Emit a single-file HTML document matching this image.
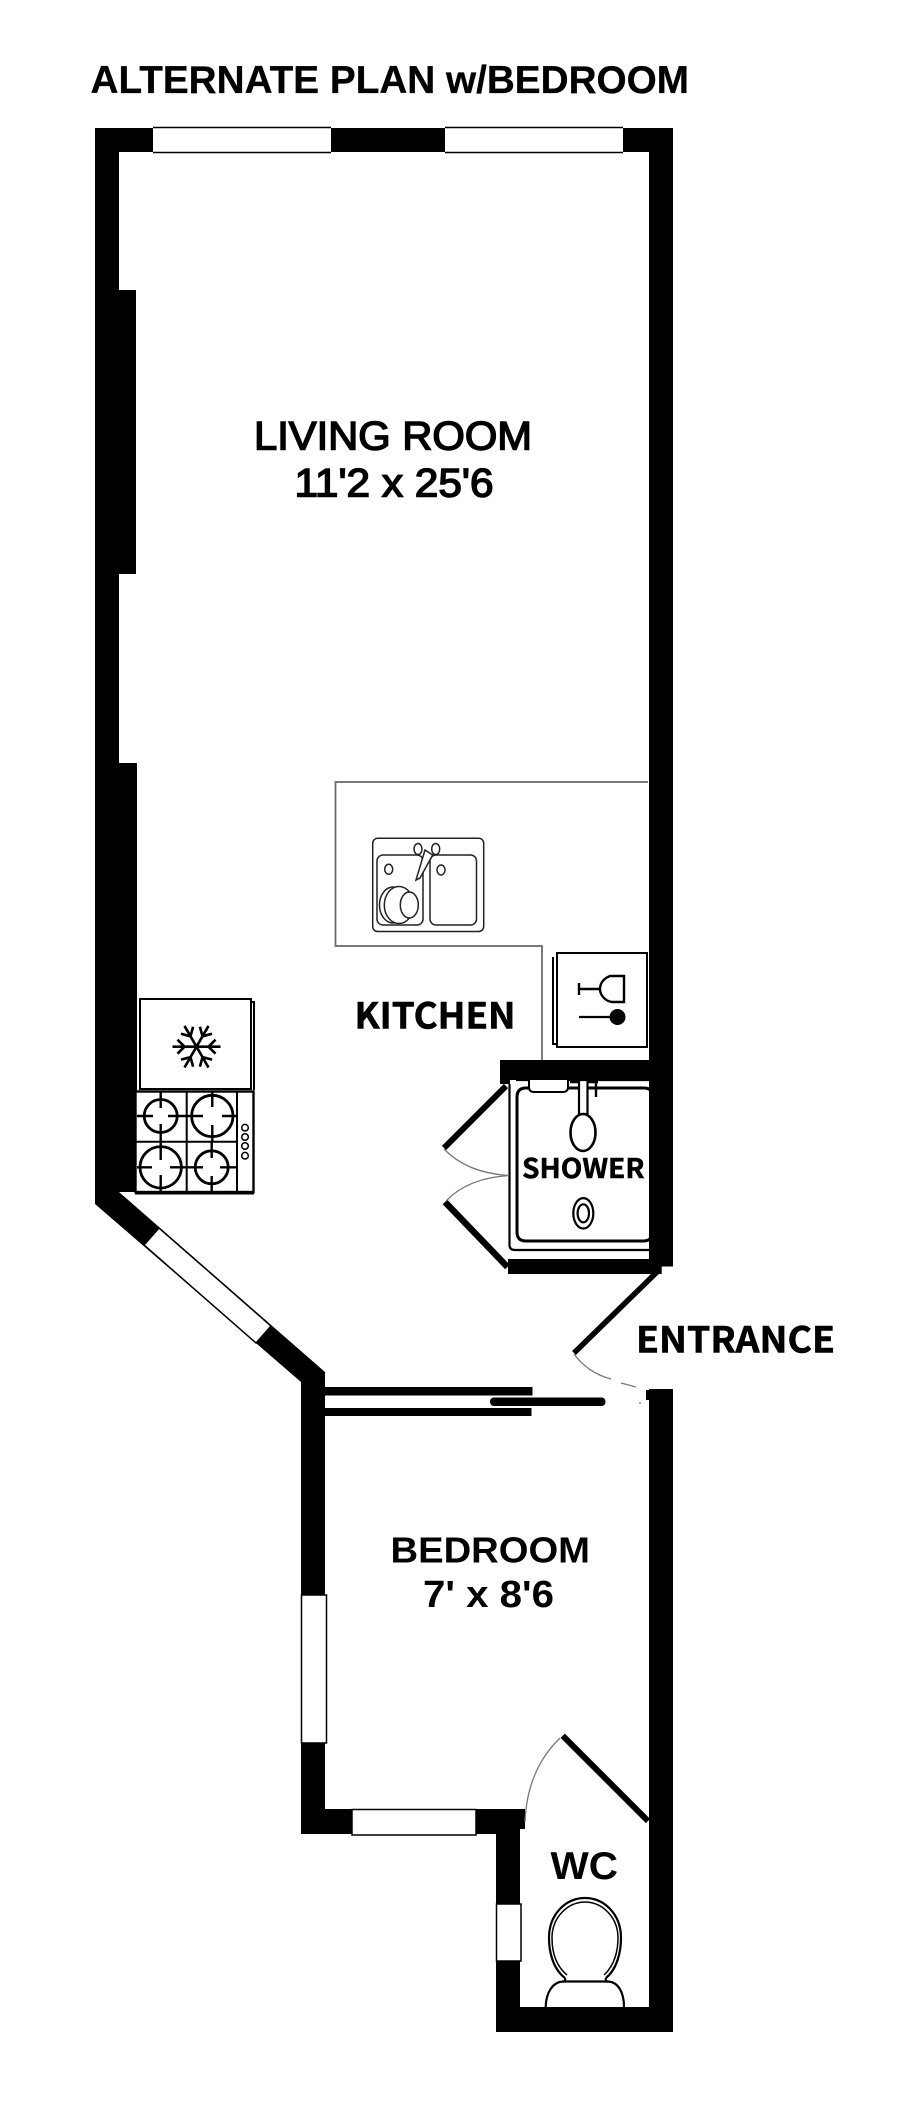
<!DOCTYPE html>
<html><head><meta charset="utf-8"><style>
html,body{margin:0;padding:0;background:#fff;width:900px;height:2114px;overflow:hidden}
svg{display:block}
.a{font-family:"Liberation Sans",sans-serif;fill:#000}
.n{font-family:"Noto Sans CJK JP","Liberation Sans",sans-serif;font-weight:700;fill:#000}
</style></head><body>
<svg width="900" height="2114" viewBox="0 0 900 2114" xmlns="http://www.w3.org/2000/svg">
<rect width="900" height="2114" fill="#fff"/>

<!-- Main walls -->
<path fill="#000" d="M95 128H673V1266.5H649V152H119V290H136V574H119V763H137V1192H119L325 1372V1809H301V1382L95 1204Z"/>
<rect x="500" y="1060" width="172" height="20"/>
<rect x="500" y="1078" width="10" height="6"/>
<rect x="508" y="1259" width="153.7" height="15"/>
<rect x="649" y="1389" width="24" height="643"/>
<rect x="646" y="1390" width="4" height="10"/>
<rect x="301" y="1809" width="224" height="20"/>
<rect x="301" y="1809" width="219" height="25"/>
<rect x="496" y="1809" width="24" height="223"/>
<rect x="496" y="2007" width="177" height="25"/>

<!-- Sliding door -->
<rect x="325" y="1387" width="207.5" height="8.5"/>
<rect x="325" y="1408" width="206.5" height="8"/>
<rect x="490" y="1397.5" width="115.5" height="8.5" rx="4"/>

<!-- Windows -->
<g fill="#fff" stroke="#000" stroke-width="1.5">
<rect x="153" y="128" width="178" height="24.5" stroke="none"/>
<path d="M153 127.5H331M153 152.5H331" fill="none"/>
<rect x="445" y="128" width="178" height="24.5" stroke="none"/>
<path d="M445 127.5H623M445 152.5H623" fill="none"/>
<path d="M144 1245L159 1228L271 1326L256 1343Z"/>
<rect x="301.5" y="1595" width="25" height="148"/>
<rect x="352" y="1809.5" width="124" height="25.5"/>
<rect x="496.5" y="1904" width="24.5" height="57"/>
</g>

<!-- Counter -->
<path d="M648 782H335.5V946H542V1060" fill="none" stroke="#666" stroke-width="1.7"/>

<!-- Sink -->
<g fill="none" stroke="#222" stroke-width="1.5">
<rect x="372.7" y="838.3" width="111" height="93.2" rx="5"/>
<rect x="377" y="855" width="46" height="70" rx="6"/>
<rect x="430" y="855" width="46.5" height="70" rx="6"/>
<g fill="#fff">
<ellipse cx="418" cy="849" rx="4" ry="5.5"/>
<ellipse cx="435.7" cy="849" rx="4" ry="5.5"/>
<ellipse cx="388.7" cy="869.3" rx="4" ry="5"/>
<ellipse cx="441" cy="870" rx="4" ry="5"/>
<path d="M432.7 855L425 850L416 880L420 878Z"/>
<ellipse cx="393" cy="905" rx="13.5" ry="18"/>
<ellipse cx="399" cy="905" rx="14.7" ry="18.5"/>
<ellipse cx="409.3" cy="905" rx="9" ry="13"/>
</g>
</g>

<!-- Wine box -->
<g fill="none" stroke="#000">
<rect x="557" y="953" width="90" height="94" stroke-width="2"/>
<path d="M553 957V1044H557" stroke-width="2"/>
<path d="M579 983V995M579 989H600M624 976H610C602 979 600 985 600 989C600 995 605 1001 612 1002H624Z" stroke-width="2.4"/>
<path d="M579 1017H610" stroke-width="2.2"/>
<circle cx="617.5" cy="1017" r="8" fill="#000" stroke="none"/>
</g>

<!-- Fridge -->
<g fill="none" stroke="#000">
<rect x="140" y="999" width="111" height="90" stroke-width="2"/>
<path d="M251 1002H254V1090" stroke-width="2"/>
<g stroke-width="2.6" transform="translate(196.5 1046.7) rotate(90)">
<path d="M0 0V-24M0 -12L-7 -19M0 -12L7 -19"/>
<g transform="rotate(60)"><path d="M0 0V-24M0 -12L-7 -19M0 -12L7 -19"/></g>
<g transform="rotate(120)"><path d="M0 0V-24M0 -12L-7 -19M0 -12L7 -19"/></g>
<g transform="rotate(180)"><path d="M0 0V-24M0 -12L-7 -19M0 -12L7 -19"/></g>
<g transform="rotate(240)"><path d="M0 0V-24M0 -12L-7 -19M0 -12L7 -19"/></g>
<g transform="rotate(300)"><path d="M0 0V-24M0 -12L-7 -19M0 -12L7 -19"/></g>
</g>
</g>

<!-- Stove -->
<g fill="none" stroke="#000">
<rect x="135.5" y="1091.5" width="118" height="100.5" fill="#fff" stroke-width="2.4"/>
<path d="M135 1193H254" stroke-width="3"/>
<path d="M186.7 1092V1192M237 1092V1192M136 1141.7H237" stroke-width="2"/>
<g stroke-width="2.8">
<circle cx="160.7" cy="1116" r="16.5"/>
<circle cx="212.3" cy="1116" r="20.7"/>
<circle cx="160.7" cy="1167.3" r="20.7"/>
<circle cx="211.7" cy="1167.3" r="16.5"/>
</g>
<path stroke-width="2.4" d="M137 1116H153M168 1116H187M160.7 1092V1108M160.7 1124V1142M187 1116H203M222 1116H237M212.3 1092V1107M212.3 1125V1142M137 1167.3H152M170 1167.3H187M160.7 1142V1160M160.7 1175V1192M187 1167.3H203M220 1167.3H237M211.7 1142V1158M211.7 1176V1192"/>
<g stroke-width="1.5">
<circle cx="245" cy="1127.7" r="3.3"/><circle cx="245" cy="1137" r="3.3"/><circle cx="245" cy="1146" r="3.3"/><circle cx="245" cy="1155.7" r="3.3"/>
</g>
</g>

<!-- Shower -->
<g fill="none" stroke="#000">
<path d="M509.5 1084V1245Q509.5 1250 515 1250H651Q657 1250 657 1245V1086Q657 1080 651 1080H516" stroke-width="2.2"/>
<path d="M517 1097Q517 1088 526 1088H644Q652.5 1088 652.5 1097V1232Q652.5 1241 643 1241H526Q517 1241 517 1232Z" stroke-width="3"/>
<path d="M529 1080V1087Q529 1092 534 1092H563Q568 1092 568 1087V1080" fill="#fff" stroke-width="2"/>
<path d="M570 1082H598M596 1082V1097" stroke-width="2.4"/>
<rect x="579" y="1080" width="8.5" height="34" fill="#fff" stroke-width="2.2"/>
<ellipse cx="583" cy="1132.5" rx="12.5" ry="18.5" fill="#fff" stroke-width="2.6"/>
<ellipse cx="583.3" cy="1213.3" rx="10" ry="15.2" stroke-width="2.2"/>
<ellipse cx="583.3" cy="1213.3" rx="5.7" ry="9" stroke-width="2.2"/>
</g>

<!-- Doors -->
<g fill="none" stroke="#000">
<path d="M506 1086L444 1148" stroke-width="6"/>
<path d="M445 1202L507.5 1267" stroke-width="6.5"/>
<path d="M659 1270L574 1353" stroke-width="5.5"/>
<path d="M562.7 1735.7L648 1821" stroke-width="6"/>
</g>
<g fill="none" stroke="#777" stroke-width="1.3">
<path d="M444 1149Q467 1173 509 1175.5"/>
<path d="M446 1201Q468 1178 509 1175.5"/>
<path d="M574 1354Q588 1373 611 1379"/>
<path d="M621 1383L636 1387M640 1402V1404"/>
<path d="M560 1738Q527 1770 525 1822"/>
</g>

<!-- Toilet -->
<g fill="none" stroke="#000">
<path d="M565 1978C552 1968 549 1950 549 1938C549 1914 566 1898 585 1898C604 1898 621 1914 621 1938C621 1950 618 1968 606 1978" stroke-width="2.2"/>
<path d="M567 1975C555 1965 552 1950 552 1938C552 1917 568 1902 585 1902C602 1902 618 1917 618 1938C618 1950 615 1965 604 1975" stroke-width="1.5"/>
<path d="M565 1978Q566 1981 563 1982M606 1978Q605 1981 608 1982" stroke-width="2.2"/>
<path d="M545.7 2007C546 1992 553 1982 563 1981.5H608C618 1982 624 1992 624 2007" stroke-width="2.2"/>
</g>

<!-- Labels -->
<text class="a" x="90.5" y="93" font-size="38.5" font-weight="700" stroke="#000" stroke-width=".3" textLength="598.5" lengthAdjust="spacingAndGlyphs">ALTERNATE PLAN w/BEDROOM</text>
<text class="a" x="254" y="449.5" font-size="40" stroke="#000" stroke-width="1.5" textLength="278" lengthAdjust="spacingAndGlyphs">LIVING ROOM</text>
<text class="a" x="294.5" y="496.5" font-size="40" stroke="#000" stroke-width="1.5" textLength="199" lengthAdjust="spacingAndGlyphs">11'2 x 25'6</text>
<text class="n" x="354.5" y="1028.5" font-size="36" stroke="#000" stroke-width=".6" textLength="161" lengthAdjust="spacingAndGlyphs">KITCHEN</text>
<text class="n" x="522" y="1178" font-size="27" stroke="#000" stroke-width=".5" textLength="122.5" lengthAdjust="spacingAndGlyphs">SHOWER</text>
<text class="n" x="636" y="1352.5" font-size="36" stroke="#000" stroke-width=".6" textLength="199" lengthAdjust="spacingAndGlyphs">ENTRANCE</text>
<text class="a" x="390.5" y="1562.5" font-size="36" font-weight="700" textLength="199.5" lengthAdjust="spacingAndGlyphs">BEDROOM</text>
<text class="a" x="423" y="1607" font-size="38" font-weight="700" textLength="131" lengthAdjust="spacingAndGlyphs">7' x 8'6</text>
<text class="a" x="550.5" y="1879" font-size="39" font-weight="700" textLength="67.5" lengthAdjust="spacingAndGlyphs">WC</text>
</svg>
</body></html>
